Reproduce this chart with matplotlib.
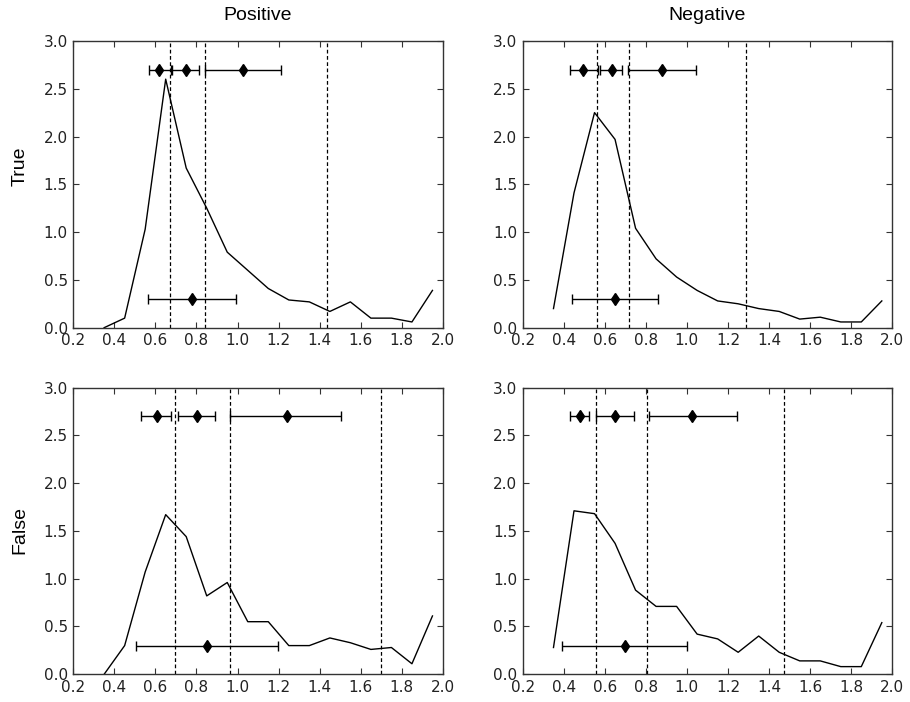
import numpy as np
import matplotlib
matplotlib.use("Agg")
import matplotlib.pyplot as plt

# bin centres shared by every curve
x = [0.35, 0.45, 0.55, 0.65, 0.75, 0.85, 0.95, 1.05, 1.15,
     1.25, 1.35, 1.45, 1.55, 1.65, 1.75, 1.85, 1.95]

col_titles = ["Positive", "Negative"]
row_titles = ["True", "False"]

# density curves
pos_true = [0.0, 0.10, 1.03, 2.60, 1.67, 1.25, 0.79, 0.60, 0.41,
            0.29, 0.27, 0.17, 0.27, 0.10, 0.10, 0.06, 0.39]
neg_true = [0.20, 1.41, 2.25, 1.97, 1.04, 0.72, 0.53, 0.39, 0.28,
            0.25, 0.20, 0.17, 0.09, 0.11, 0.06, 0.06, 0.28]
pos_false = [0.0, 0.30, 1.07, 1.67, 1.44, 0.82, 0.96, 0.55, 0.55,
             0.30, 0.30, 0.38, 0.33, 0.26, 0.28, 0.11, 0.61]
neg_false = [0.28, 1.71, 1.68, 1.37, 0.88, 0.71, 0.71, 0.42, 0.37,
             0.23, 0.40, 0.23, 0.14, 0.14, 0.08, 0.08, 0.54]

# dashed vertical boundaries
pos_true_vlines = [0.67, 0.84, 1.435]
neg_true_vlines = [0.564, 0.717, 1.29]
pos_false_vlines = [0.697, 0.963, 1.697]
neg_false_vlines = [0.557, 0.804, 1.475]

# upper row of error bars (y = 2.7): centre, low, high
pos_true_top = [(0.616, 0.570, 0.676), (0.747, 0.679, 0.814), (1.027, 0.842, 1.210)]
neg_true_top = [(0.495, 0.432, 0.566), (0.633, 0.578, 0.686), (0.880, 0.715, 1.044)]
pos_false_top = [(0.606, 0.531, 0.676), (0.802, 0.710, 0.889), (1.240, 0.965, 1.506)]
neg_false_top = [(0.479, 0.432, 0.525), (0.649, 0.557, 0.744), (1.026, 0.814, 1.242)]

# lower error bar (y = 0.3): centre, low, high
pos_true_bot = (0.778, 0.565, 0.991)
neg_true_bot = (0.651, 0.440, 0.860)
pos_false_bot = (0.853, 0.506, 1.197)
neg_false_bot = (0.698, 0.392, 1.000)

top_y = 2.7
bot_y = 0.3

panels = [
    [(pos_true, pos_true_vlines, pos_true_top, pos_true_bot),
     (neg_true, neg_true_vlines, neg_true_top, neg_true_bot)],
    [(pos_false, pos_false_vlines, pos_false_top, pos_false_bot),
     (neg_false, neg_false_vlines, neg_false_top, neg_false_bot)],
]

fig = plt.figure(figsize=(9.1, 7.02), dpi=100)
lefts = [0.0806, 0.5744]
bottoms = [0.5332, 0.0395]
w, h = 0.4059, 0.4085

gray = "#333333"

for r in range(2):
    for c in range(2):
        y, vl, top, bot = panels[r][c]
        ax = fig.add_axes([lefts[c], bottoms[r], w, h])
        ax.plot(x, y, color="black", lw=1.0)
        for v in vl:
            ax.axvline(v, color="black", lw=0.9, ls=(0, (3, 2)))
        for cen, lo, hi in top:
            ax.errorbar([cen], [top_y], xerr=[[cen - lo], [hi - cen]],
                        fmt="d", color="black", ms=6, lw=1.0,
                        capsize=3.5, capthick=1.0)
        cen, lo, hi = bot
        ax.errorbar([cen], [bot_y], xerr=[[cen - lo], [hi - cen]],
                    fmt="d", color="black", ms=6, lw=1.0,
                    capsize=3.5, capthick=1.0)
        ax.set_xlim(0.2, 2.0)
        ax.set_ylim(0.0, 3.0)
        ax.set_xticks(np.arange(0.2, 2.01, 0.2))
        ax.set_yticks(np.arange(0.0, 3.01, 0.5))
        ax.xaxis.set_major_formatter(plt.FormatStrFormatter("%.1f"))
        ax.yaxis.set_major_formatter(plt.FormatStrFormatter("%.1f"))
        ax.tick_params(direction="in", top=True, right=True, length=4,
                       width=0.8, labelsize=11, labelcolor="#222222",
                       color=gray, pad=4)
        for s in ax.spines.values():
            s.set_color(gray)
            s.set_linewidth(1.0)
        if r == 0:
            ax.set_title(col_titles[c], fontsize=14,
                         family="Liberation Sans", pad=15)

fig.text(0.022, 0.763, row_titles[0], rotation=90, fontsize=14,
         family="Liberation Sans", ha="center", va="center")
fig.text(0.022, 0.245, row_titles[1], rotation=90, fontsize=14,
         family="Liberation Sans", ha="center", va="center")

fig.savefig("out.png", dpi=100)
